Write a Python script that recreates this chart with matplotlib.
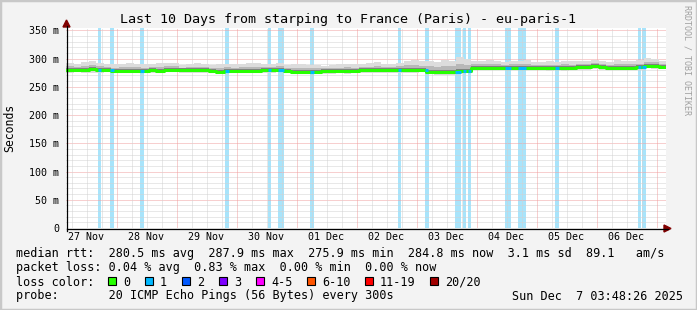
import numpy as np
import matplotlib
matplotlib.use('Agg')
import matplotlib.pyplot as plt
from matplotlib.patches import Rectangle, Polygon
from matplotlib.lines import Line2D

W, H = 697, 310
MONO = 'DejaVu Sans Mono'

# time axis: hours since 27 Nov 00:00
t_start = 3.8    # 27 Nov 03:48
t_end = 243.8    # 07 Dec 03:48
bin_h = 3.0

# median rtt (ms), one value per 3 hours
median_ms = [280, 280, 280, 281, 280, 280, 278.5, 278.5, 278.5, 278.5,
             278.5, 279, 278.5, 280.5, 280.5, 279, 279, 279, 279, 278.5,
             276.5, 278.5, 278.5, 278.5, 278.5, 278.5, 279, 280, 280.5, 278,
             277, 277, 277, 277, 277.5, 277.5, 278, 278, 278.5, 279,
             279, 279, 279, 279, 280, 280, 280, 280, 276, 276,
             276, 277, 278, 278.5, 284, 284, 284, 284, 284, 284,
             284, 284, 283.5, 283, 283, 283, 283, 283, 284.5, 285,
             286, 285, 284, 284, 284, 284, 285, 287.5, 287, 285]
# smoke spread above / below the median (ms)
smoke_hi = [12, 11, 13, 14, 12, 10, 11, 12, 13, 12, 11, 12, 13, 12, 11, 10, 12, 13, 11, 10,
            14, 12, 11, 12, 13, 14, 12, 11, 12, 10, 13, 14, 12, 11, 10, 11, 12, 13, 11, 12,
            13, 14, 12, 11, 12, 16, 18, 15, 20, 18, 22, 19, 24, 20, 12, 11, 13, 12, 10, 11,
            12, 13, 11, 10, 12, 11, 13, 12, 11, 10, 12, 11, 10, 13, 12, 11, 12, 13, 12, 10]
smoke_lo = [5, 4, 5, 6, 5, 4, 5, 5, 4, 5, 4, 5, 5, 4, 5, 4, 5, 5, 4, 4,
            4, 5, 5, 4, 5, 5, 4, 5, 5, 4, 5, 4, 5, 4, 5, 5, 4, 5, 4, 5,
            5, 4, 5, 4, 5, 5, 5, 4, 4, 5, 5, 6, 6, 5, 4, 4, 5, 4, 4, 5,
            4, 5, 4, 4, 5, 4, 5, 4, 4, 5, 4, 5, 4, 4, 5, 4, 5, 4, 5, 4]

# packet loss events (1 of 20 lost): start hour, duration in hours
loss_start = [16.4, 21.2, 33.2, 67.2, 84.4, 88.4, 101.2, 136.4, 147.2,
              159.2, 162.4, 164.4, 179.2, 184.4, 199.2, 232.4, 234.0]
loss_len = [1.2, 1.6, 1.6, 1.6, 1.2, 2.4, 1.6, 1.2, 1.6,
            2.4, 1.2, 1.2, 2.4, 3.2, 1.6, 1.2, 1.6]

day_labels = ['27 Nov', '28 Nov', '29 Nov', '30 Nov', '01 Dec',
              '02 Dec', '03 Dec', '04 Dec', '05 Dec', '06 Dec']
y_ticks = [0, 50, 100, 150, 200, 250, 300, 350]
y_labels = ['0', '50 m', '100 m', '150 m', '200 m', '250 m', '300 m', '350 m']

loss_names = ['0', '1', '2', '3', '4-5', '6-10', '11-19', '20/20']
loss_colors = ['#26ff00', '#00b8ff', '#0059ff', '#7e00ff',
               '#ff00ff', '#ff5500', '#ff0000', '#a10000']

rtt_line = 'median rtt:  280.5 ms avg  287.9 ms max  275.9 ms min  284.8 ms now  3.1 ms sd  89.1   am/s'
loss_line = 'packet loss: 0.04 % avg  0.83 % max  0.00 % min  0.00 % now'
probe_line = 'probe:       20 ICMP Echo Pings (56 Bytes) every 300s'
stamp = 'Sun Dec  7 03:48:26 2025'
title = 'Last 10 Days from starping to France (Paris) - eu-paris-1'


def fx(x):
    return x / W


def fy(y):
    return 1 - y / H


fig = plt.figure(figsize=(W / 100, H / 100), dpi=100, facecolor='#f3f3f3')
ax = fig.add_axes([fx(66), fy(228), 600 / W, 200 / H])
ax.set_facecolor('white')
ax.set_xlim(t_start, t_end)
ax.set_ylim(0, 354)
for s in ax.spines.values():
    s.set_visible(False)

# loss bars in the background
ax.bar(loss_start, 354, width=loss_len, align='edge', color='#a8e4fb', zorder=1)

# grid
for v in range(10, 360, 10):
    major = v % 50 == 0
    ax.axhline(v, color='#f0a0a0' if major else '#d2d2d2', lw=0.72,
               ls=(0, (1, 1)), zorder=2)
for h in range(6, 246, 6):
    major = h % 24 == 0
    ax.axvline(h, color='#f0a0a0' if major else '#d2d2d2', lw=0.72,
               ls=(0, (1, 1)), zorder=2)

# smoke + median
med = np.array(median_ms)
hi = np.array(smoke_hi)
lo = np.array(smoke_lo)
edges = t_start + bin_h * np.arange(len(med) + 1)


def ext(a):
    return np.append(a, a[-1])


ax.fill_between(edges, ext(med - lo), ext(med + hi), step='post',
                color='#dcdcdc', lw=0, zorder=3)
ax.fill_between(edges, ext(med - lo * 0.6), ext(med + hi * 0.5), step='post',
                color='#b8b8b8', lw=0, zorder=3)
ax.fill_between(edges, ext(med - 1.5), ext(med + 3.5), step='post',
                color='#808080', lw=0, zorder=3)
ax.step(edges, ext(med), where='post', color=loss_colors[0], lw=2.2, zorder=4)

# median segments coloured by loss
for s, d in zip(loss_start, loss_len):
    i = min(int((s - t_start) // bin_h), len(med) - 1)
    ax.plot([s, s + d], [med[i], med[i]], color=loss_colors[1], lw=2.2,
            solid_capstyle='butt', zorder=5)

ax.set_xticks([12 + 24 * i for i in range(len(day_labels))])
ax.set_xticklabels(day_labels, fontsize=7.2, family=MONO)
ax.set_yticks(y_ticks)
ax.set_yticklabels(y_labels, fontsize=7.2, family=MONO)
ax.tick_params(length=0)
ax.tick_params(axis='x', pad=3)
ax.tick_params(axis='y', pad=5)

# axes lines and arrows
fig.add_artist(Line2D([fx(66.5), fx(668)], [fy(228.5), fy(228.5)], color='black', lw=0.9))
fig.add_artist(Line2D([fx(66.5), fx(66.5)], [fy(231), fy(26)], color='black', lw=0.9))
fig.add_artist(Polygon([[fx(664), fy(225)], [fx(664), fy(232)], [fx(671), fy(228.5)]],
                       closed=True, color='#800000'))
fig.add_artist(Polygon([[fx(63), fy(27)], [fx(70), fy(27)], [fx(66.5), fy(20)]],
                       closed=True, color='#800000'))

# frame
fig.add_artist(Rectangle((0, 0), 1, 1, transform=fig.transFigure, fill=False,
                         ec='#c8c8c8', lw=2.5))

fig.text(fx(348), fy(19), title, fontsize=9.6, family=MONO, ha='center', va='center')
fig.text(fx(10), fy(128), 'Seconds', fontsize=8.3, family=MONO, rotation=90,
         ha='center', va='center')
fig.text(fx(687), fy(5), 'RRDTOOL / TOBI OETIKER', fontsize=6, family=MONO,
         rotation=270, ha='center', va='top', color='#a0a0a0')

fig.text(fx(16), fy(254), rtt_line, fontsize=8.5, family=MONO, va='center')
fig.text(fx(16), fy(268), loss_line, fontsize=8.5, family=MONO, va='center')
fig.text(fx(16), fy(282), 'loss color:', fontsize=8.5, family=MONO, va='center')
fig.text(fx(16), fy(296), probe_line, fontsize=8.5, family=MONO, va='center')
fig.text(fx(683), fy(296), stamp, fontsize=8.5, family=MONO, va='center', ha='right')

sw_x = [108, 145, 182, 219, 256, 307, 365, 430]
for x, name, c in zip(sw_x, loss_names, loss_colors):
    fig.add_artist(Rectangle((fx(x), fy(284.5)), 7.5 / W, 7.5 / H,
                             transform=fig.transFigure, fc=c, ec='black', lw=0.8))
    fig.text(fx(x + 15), fy(282), name, fontsize=8.5, family=MONO, va='center')

fig.savefig('out.png', dpi=100, facecolor=fig.get_facecolor())
